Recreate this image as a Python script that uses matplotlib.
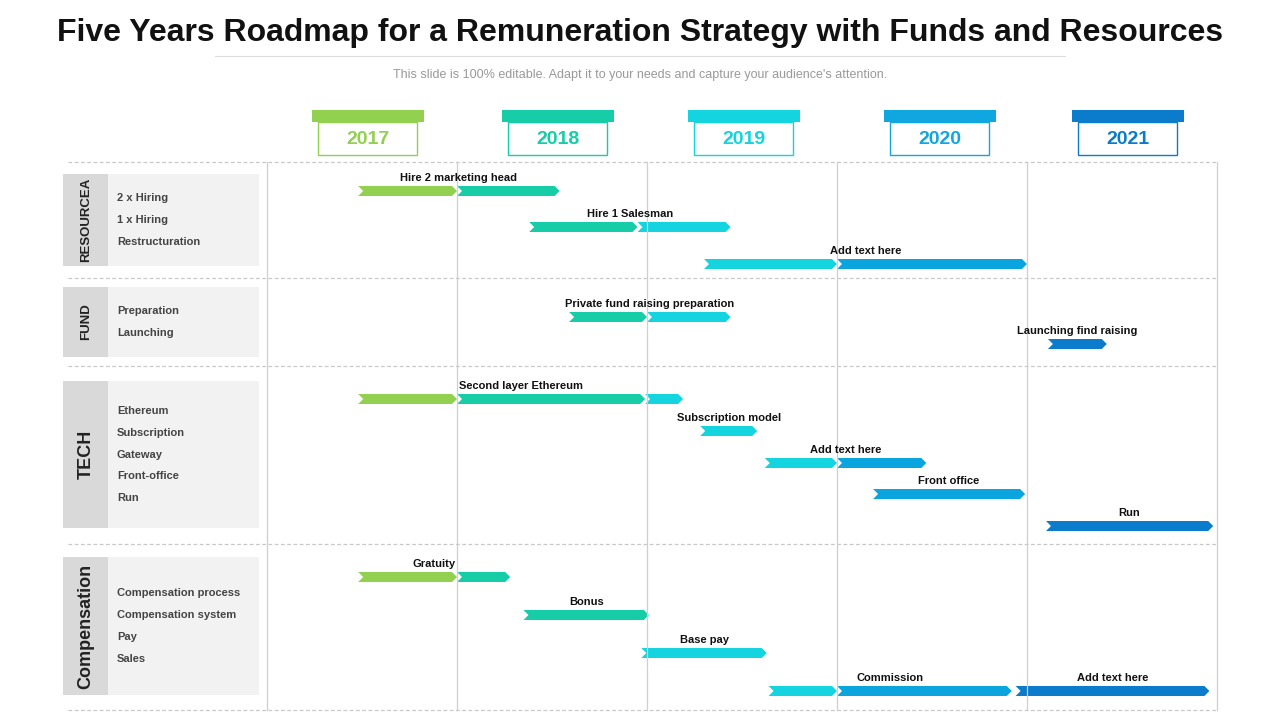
import matplotlib.pyplot as plt
from matplotlib.patches import Polygon, Rectangle

plt.rcParams["font.family"] = "Liberation Sans"

title = "Five Years Roadmap for a Remuneration Strategy with Funds and Resources"
subtitle = "This slide is 100% editable. Adapt it to your needs and capture your audience's attention."

years = [2017, 2018, 2019, 2020, 2021]
year_colors = ["#92D050", "#16CDA8", "#14D4DF", "#10A6E0", "#0B7CCB"]
header_centers = [2017.53, 2018.53, 2019.51, 2020.54, 2021.53]

# lanes: name, top, bottom (px rows), items
lanes = ["RESOURCEA", "FUND", "TECH", "Compensation"]
lane_top = [174, 287, 381, 557]
lane_bot = [266, 357, 528, 695]
lane_items = [
    ["2 x Hiring", "1 x Hiring", "Restructuration"],
    ["Preparation", "Launching"],
    ["Ethereum", "Subscription", "Gateway", "Front-office", "Run"],
    ["Compensation process", "Compensation system", "Pay", "Sales"],
]
separators = [162, 278, 366, 544, 710]

# bars: label, row y, breakpoints (years), colour index per segment
bar_labels = ["Hire 2 marketing head", "Hire 1 Salesman", "Add text here",
              "Private fund raising preparation", "Launching find raising",
              "Second layer Ethereum", "Subscription model", "Add text here",
              "Front office", "Run", "Gratuity", "Bonus", "Base pay",
              "Commission", "Add text here"]
bar_rows = [191, 227, 264, 317, 344, 399, 431, 463, 494, 526, 577, 615, 653, 691, 691]
bar_breaks = [
    [2017.48, 2018.0, 2018.54],
    [2018.38, 2018.95, 2019.44],
    [2019.30, 2020.0, 2021.0],
    [2018.59, 2019.0, 2019.44],
    [2021.11, 2021.42],
    [2017.48, 2018.0, 2018.99, 2019.19],
    [2019.28, 2019.58],
    [2019.62, 2020.0, 2020.47],
    [2020.19, 2020.99],
    [2021.10, 2021.98],
    [2017.48, 2018.0, 2018.28],
    [2018.35, 2019.01],
    [2018.97, 2019.63],
    [2019.64, 2020.0, 2020.92],
    [2020.94, 2021.96],
]
bar_colors = [
    [0, 1], [1, 2], [2, 3], [1, 2], [4], [0, 1, 2], [2], [2, 3], [3], [4],
    [0, 1], [1], [2], [2, 3], [4],
]
seg_palette = ["#92D050", "#16CDA8", "#14D4DF", "#0AA5DE", "#0B7CCB"]

fig = plt.figure(figsize=(12.8, 7.2), dpi=100)
ax = fig.add_axes([0, 0, 1, 1])
px_per_year = 190.0
ax.set_xlim(2017 - 267 / px_per_year, 2017 + (1280 - 267) / px_per_year)
ax.set_ylim(720, 0)
ax.axis("off")

def xp(px):
    return 2017 + (px - 267) / px_per_year

fig.text(0.5, 1 - 33 / 720, title, ha="center", va="center", fontsize=23, fontweight="bold", color="#111111")
ax.plot([xp(215), xp(1065)], [56, 56], color="#DDDDDD", lw=0.8)
fig.text(0.5, 1 - 75 / 720, subtitle, ha="center", va="center", fontsize=9, color="#999999")

# grid
for y in separators:
    ax.plot([xp(68), 2022], [y, y], color="#C8C8C8", lw=0.9, ls=(0, (3, 2)))
for yr in years + [2022]:
    ax.plot([yr, yr], [162, 710], color="#CFCFCF", lw=0.9)

# year headers
for yr, c, cx in zip(years, year_colors, header_centers):
    ax.add_patch(Rectangle((cx - 56 / px_per_year, 110), 112 / px_per_year, 12, color=c, lw=0))
    ax.add_patch(Rectangle((cx - 49.5 / px_per_year, 122), 99 / px_per_year, 33,
                           facecolor="white", edgecolor=c, lw=1))
    ax.text(cx, 139, str(yr), ha="center", va="center", fontsize=14, fontweight="bold", color=c)

# lane boxes
for name, t, b, items in zip(lanes, lane_top, lane_bot, lane_items):
    ax.add_patch(Rectangle((xp(63), t), 196 / px_per_year, b - t, color="#F2F2F2", lw=0))
    ax.add_patch(Rectangle((xp(63), t), 45 / px_per_year, b - t, color="#D9D9D9", lw=0))
    fs = 13 if name in ("TECH", "Compensation") else 9.5
    ax.text(xp(86), (t + b) / 2, name, rotation=90, ha="center", va="center",
            fontsize=fs, fontweight="bold", color="#222222", fontfamily="Roboto Condensed"
            if False else "Liberation Sans")
    n = len(items)
    y0 = (t + b) / 2 - (n - 1) * 21.7 / 2
    for i, it in enumerate(items):
        ax.text(xp(117), y0 + i * 21.7, it, ha="left", va="center", fontsize=8,
                fontweight="bold", color="#444444")

# bars
h = 10
notch = 5 / px_per_year
for lab, y, br, cols in zip(bar_labels, bar_rows, bar_breaks, bar_colors):
    for i, ci in enumerate(cols):
        x0, x1 = br[i], br[i + 1]
        pts = [(x0, y - h / 2), (x1 - notch, y - h / 2), (x1, y),
               (x1 - notch, y + h / 2), (x0, y + h / 2), (x0 + notch, y)]
        ax.add_patch(Polygon(pts, closed=True, color=seg_palette[ci], lw=0))
    ax.text((br[0] + br[-1]) / 2, y - 13, lab, ha="center", va="center",
            fontsize=8, fontweight="bold", color="#111111")

fig.savefig("out.png", dpi=100)
